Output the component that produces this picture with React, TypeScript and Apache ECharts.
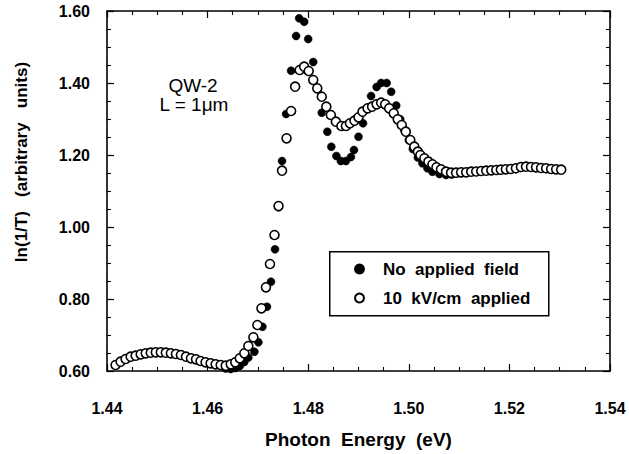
import React, { useEffect, useRef } from "react";
import * as echarts from "echarts";

// Photon energy (eV) and ln(1/T) values
const energyNoField = [
  1.4417, 1.4427, 1.4437, 1.4447, 1.4457, 1.4467, 1.4477, 1.4487, 1.4497, 1.4507, 1.4517,
  1.4527, 1.4537, 1.4547, 1.4557, 1.4567, 1.4577, 1.4586, 1.4596, 1.4606, 1.4616, 1.4626,
  1.4636, 1.4646, 1.4655, 1.4664, 1.4673, 1.4681, 1.4693, 1.4701, 1.4709, 1.4718, 1.4726,
  1.4734, 1.4741, 1.4748, 1.4756, 1.4766, 1.4776, 1.4782, 1.4792, 1.48, 1.481, 1.4819,
  1.4827, 1.4838, 1.4846, 1.4856, 1.4865, 1.4875, 1.4885, 1.4891, 1.49, 1.4909, 1.4917,
  1.4925, 1.4936, 1.4945, 1.4956, 1.4965, 1.4975, 1.4983, 1.4991, 1.5, 1.5008, 1.5018,
  1.5027, 1.5037, 1.5047, 1.5061, 1.5074, 1.5085, 1.5095, 1.5104,
];
const valuesNoField = [
  0.6167, 0.6258, 0.6333, 0.6397, 0.6425, 0.6464, 0.6492, 0.6508, 0.6519, 0.6519, 0.6508,
  0.6492, 0.6472, 0.6444, 0.6397, 0.6353, 0.6325, 0.6278, 0.6242, 0.6214, 0.6186, 0.615,
  0.6069, 0.6056, 0.6083, 0.6139, 0.625, 0.6375, 0.6536, 0.6797, 0.7231, 0.7786, 0.8481,
  0.9381, 1.0547, 1.1833, 1.3139, 1.4342, 1.5306, 1.5797, 1.5703, 1.5222, 1.4583, 1.3833,
  1.3175, 1.2647, 1.2231, 1.1972, 1.1833, 1.1833, 1.1944, 1.2139, 1.2508, 1.2881, 1.3306,
  1.3639, 1.3889, 1.4, 1.4, 1.3758, 1.3375, 1.2992, 1.2694, 1.2417, 1.2167, 1.1931,
  1.1769, 1.1631, 1.1536, 1.1472, 1.1444, 1.1458, 1.1486, 1.15,
];

const energyField = [
  1.4417, 1.4427, 1.4437, 1.4447, 1.4457, 1.4467, 1.4477, 1.4487, 1.4497, 1.4507, 1.4517,
  1.4527, 1.4537, 1.4547, 1.4557, 1.4567, 1.4577, 1.4586, 1.4596, 1.4606, 1.4616, 1.4626,
  1.4636, 1.4646, 1.4655, 1.4664, 1.4673, 1.4681, 1.4691, 1.4699, 1.4707, 1.4716, 1.4724,
  1.4733, 1.4741, 1.4748, 1.4757, 1.4766, 1.4774, 1.4783, 1.4792, 1.4801, 1.481, 1.4818,
  1.4827, 1.4836, 1.4845, 1.4855, 1.4866, 1.4875, 1.4883, 1.4892, 1.49, 1.4908, 1.4918,
  1.4927, 1.4936, 1.4945, 1.4953, 1.4961, 1.497, 1.4978, 1.4986, 1.4994, 1.5003, 1.5011,
  1.5018, 1.5023, 1.5031, 1.5039, 1.5047, 1.5055, 1.5064, 1.5074, 1.5084, 1.5094, 1.5104,
  1.5114, 1.5124, 1.5134, 1.5144, 1.5154, 1.5164, 1.5174, 1.5183, 1.5193, 1.5203, 1.5213,
  1.5223, 1.5233, 1.5243, 1.5253, 1.5263, 1.5273, 1.5283, 1.5293, 1.5303,
];
const valuesField = [
  0.6167, 0.6258, 0.6333, 0.6397, 0.6425, 0.6464, 0.6492, 0.6508, 0.6519, 0.6519, 0.6508,
  0.6492, 0.6472, 0.6444, 0.6397, 0.6353, 0.6325, 0.6278, 0.6242, 0.6214, 0.6186, 0.6167,
  0.6147, 0.6186, 0.6242, 0.6353, 0.6492, 0.6694, 0.6936, 0.7278, 0.7742, 0.8325, 0.8972,
  0.9778, 1.0583, 1.1564, 1.2464, 1.3222, 1.3897, 1.4361, 1.4453, 1.4333, 1.4083, 1.3853,
  1.3619, 1.3342, 1.3111, 1.2925, 1.2806, 1.2806, 1.2881, 1.2953, 1.3047, 1.3203, 1.3297,
  1.3342, 1.3408, 1.3453, 1.3408, 1.3297, 1.3158, 1.2992, 1.2833, 1.2647, 1.2417, 1.2231,
  1.2092, 1.2, 1.1908, 1.1814, 1.1742, 1.1658, 1.1603, 1.1536, 1.1508, 1.1508, 1.1519,
  1.1519, 1.1536, 1.1542, 1.1556, 1.1564, 1.1575, 1.1583, 1.1592, 1.1603, 1.1611, 1.1631,
  1.1667, 1.1675, 1.1667, 1.1658, 1.1639, 1.1631, 1.1611, 1.1603, 1.1592,
];

const seriesNames = ["No  applied  field", "10  kV/cm  applied"];
const xTitle = "Photon  Energy  (eV)";
const yTitle = "ln(1/T)   (arbitrary   units)";
const sampleLines = ["QW-2", "L = 1μm"];

const FONT = "'Liberation Sans', Arial, Helvetica, sans-serif";

export default function App() {
  const ref = useRef<HTMLDivElement>(null);
  useEffect(() => {
    const chart = echarts.init(ref.current!, null, { renderer: "svg" });
    const lineStyle = { color: "#000", width: 1.6 };
    const tick = { show: true, inside: true, length: 7, lineStyle: { color: "#000", width: 1.2 } };
    const minor = { show: true, splitNumber: 4, length: 4, lineStyle: { color: "#000", width: 1.1 } };
    const labelStyle = { color: "#000", fontSize: 16, fontWeight: "bold" as const, fontFamily: FONT };
    const xCommon = {
      type: "value" as const,
      min: 1.44,
      max: 1.54,
      interval: 0.02,
      axisLine: { show: true, onZero: false, lineStyle },
      axisTick: tick,
      minorTick: minor,
      splitLine: { show: false },
      minorSplitLine: { show: false },
    };
    const yCommon = {
      type: "value" as const,
      min: 0.6,
      max: 1.6,
      interval: 0.2,
      axisLine: { show: true, onZero: false, lineStyle },
      axisTick: tick,
      minorTick: minor,
      splitLine: { show: false },
      minorSplitLine: { show: false },
    };
    chart.setOption({
      animation: false,
      backgroundColor: "#fff",
      grid: { left: 107, right: 19, top: 11, bottom: 83, containLabel: false },
      xAxis: [
        {
          ...xCommon,
          position: "bottom",
          name: xTitle,
          nameLocation: "middle",
          nameGap: 59,
          nameTextStyle: { ...labelStyle, fontSize: 19 },
          axisLabel: {
            ...labelStyle,
            margin: 29,
            formatter: (v: number) => v.toFixed(2),
          },
        },
        { ...xCommon, position: "top", axisLabel: { show: false } },
      ],
      yAxis: [
        {
          ...yCommon,
          position: "left",
          axisLabel: {
            ...labelStyle,
            margin: 17,
            padding: [10, 0, 0, 0],
            formatter: (v: number) => v.toFixed(2),
          },
        },
        { ...yCommon, position: "right", axisLabel: { show: false } },
      ],
      legend: {
        left: 354,
        top: 260,
        orient: "vertical",
        padding: 0,
        itemGap: 11,
        itemWidth: 9,
        itemHeight: 9,
        icon: "circle",
        selectedMode: false,
        textStyle: {
          color: "#000",
          fontSize: 17,
          fontWeight: "bold",
          fontFamily: FONT,
          lineHeight: 18,
          padding: [0, 0, 0, 14],
        },
        data: seriesNames,
      },
      graphic: [
        {
          type: "rect",
          left: 329,
          top: 251,
          shape: { width: 219, height: 64 },
          style: { fill: "#fff", stroke: "#000", lineWidth: 1.5 },
          z: 3,
        },
        {
          type: "text",
          x: 21,
          y: 162,
          rotation: Math.PI / 2,
          style: {
            text: yTitle,
            fill: "#000",
            fontSize: 17,
            fontWeight: "bold",
            fontFamily: FONT,
            textAlign: "center",
            textVerticalAlign: "middle",
          },
        },
        {
          type: "text",
          x: 193,
          y: 85,
          style: {
            text: sampleLines[0],
            fill: "#000",
            fontSize: 19,
            fontFamily: FONT,
            textAlign: "center",
            textVerticalAlign: "middle",
          },
        },
        {
          type: "text",
          x: 194,
          y: 104,
          style: {
            text: sampleLines[1],
            fill: "#000",
            fontSize: 19,
            fontFamily: FONT,
            textAlign: "center",
            textVerticalAlign: "middle",
          },
        },
      ],
      series: [
        {
          name: seriesNames[0],
          type: "scatter",
          symbol: "circle",
          symbolSize: 8,
          itemStyle: { color: "#000", borderColor: "#000", borderWidth: 0.5, opacity: 1 },
          data: energyNoField.map((e, i) => [e, valuesNoField[i]]),
          z: 5,
        },
        {
          name: seriesNames[1],
          type: "scatter",
          symbol: "circle",
          symbolSize: 9,
          itemStyle: { color: "#fff", borderColor: "#000", borderWidth: 1.6, opacity: 1 },
          data: energyField.map((e, i) => [e, valuesField[i]]),
          z: 6,
        },
      ],
    });
    return () => chart.dispose();
  }, []);
  return (
    <div
      ref={ref}
      style={{ position: "fixed", left: 0, top: 0, width: 629, height: 454, background: "#fff" }}
    />
  );
}
